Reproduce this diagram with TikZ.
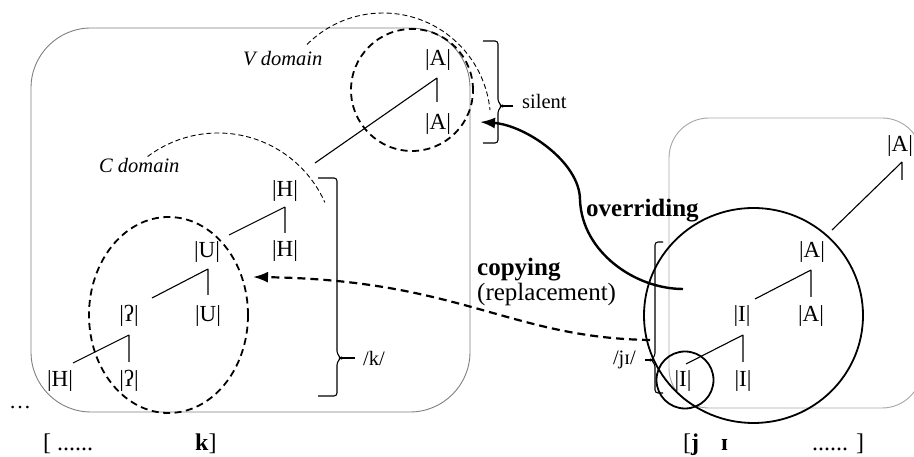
\documentclass[tikz,border=0pt]{standalone}
\usepackage{fontspec}
\setmainfont{Liberation Serif}
\usetikzlibrary{arrows.meta}
\begin{document}
\begin{tikzpicture}[x=1pt,y=1pt,
  el/.style={inner sep=0pt, font=\fontsize{23}{27}\selectfont},
  tree/.style={line width=1.1pt},
  lbox/.style={draw=black!50, line width=0.9pt},
  rbox/.style={draw=black!35, line width=0.9pt},
  dom/.style={dash pattern=on 7pt off 4.5pt, line width=1.8pt},
  thinarc/.style={dash pattern=on 5pt off 3pt, line width=0.9pt},
  brk/.style={line width=1.1pt, rounded corners=3pt},
  ring/.style={line width=1.8pt},
  lab/.style={inner sep=0pt, font=\fontsize{20.5}{24}\selectfont},
  big/.style={inner sep=0pt, font=\fontsize{25}{29}\selectfont},
  arr/.style={line width=2.4pt, -{Latex[length=15pt,width=11pt]}},
]
\useasboundingbox (0,0) rectangle (914,457);
\begin{scope}
\clip (0,0) rectangle (914,457);
% boxes
\draw[lbox, rounded corners=60pt] (31,45) rectangle (470,429);
\draw[rbox, rounded corners=40pt] (669,49) rectangle (922,339);

% left tree nodes
\node[el] (A1) at (438,397) {|A|};
\node[el] (A2) at (438,333) {|A|};
\node[el] (H1) at (285,266) {|H|};
\node[el] (H2) at (285,206) {|H|};
\node[el] (U1) at (207,205) {|U|};
\node[el] (U2) at (208,141) {|U|};
\node[el] (Q1) at (129,141) {|ʔ|};
\node[el] (H3) at (60,76) {|H|};
\node[el] (Q2) at (129,76) {|ʔ|};
% left tree branches
\coordinate (a1b) at (437,379); \coordinate (a2t) at (437,355); \coordinate (a1d) at (315,294);
\coordinate (h1b) at (285,250); \coordinate (h2t) at (285,224); \coordinate (h1d) at (229,222);
\coordinate (u1b) at (208,188); \coordinate (u2t) at (208,162); \coordinate (u1d) at (152,159);
\coordinate (q1b) at (129,122); \coordinate (q2t) at (129,95);  \coordinate (q1d) at (73,94);
\draw[tree] (a1b) -- (a2t) (a1b) -- (a1d);
\draw[tree] (h1b) -- (h2t) (h1b) -- (h1d);
\draw[tree] (u1b) -- (u2t) (u1b) -- (u1d);
\draw[tree] (q1b) -- (q2t) (q1b) -- (q1d);

% right tree nodes
\node[el] (RA1) at (900,311) {|A|};
\node[el] (RA2) at (812,205) {|A|};
\node[el] (RI1) at (742,141) {|I|};
\node[el] (RA3) at (811,141) {|A|};
\node[el] (RI2) at (683,76) {|I|};
\node[el] (RI3) at (743,76) {|I|};
\coordinate (ra1b) at (902,295); \coordinate (ra1t) at (902,277); \coordinate (ra1d) at (832,227);
\coordinate (ra2b) at (811,187); \coordinate (ra3t) at (811,160); \coordinate (ra2d) at (755,158);
\coordinate (ri1b) at (743,122); \coordinate (ri3t) at (743,95);  \coordinate (ri1d) at (686,93);
\draw[tree] (ra1b) -- (ra1t) (ra1b) -- (ra1d);
\draw[tree] (ra2b) -- (ra3t) (ra2b) -- (ra2d);
\draw[tree] (ri1b) -- (ri3t) (ri1b) -- (ri1d);

% domains
\draw[dom] (412,367) circle[radius=61];
\draw[dom] (168.5,142) circle[x radius=79.5, y radius=98];
\draw[thinarc] (383,336.5) ++(135:107.5) arc[start angle=135, end angle=5.6, radius=107.5];
\draw[thinarc] (218,207) ++(127:117) arc[start angle=127, end angle=24, radius=117];
\node[lab, anchor=base west, font=\fontsize{20.5}{24}\selectfont\itshape] (vd) at (243,391) {V domain};
\node[lab, anchor=base west, font=\fontsize{20.5}{24}\selectfont\itshape] (cd) at (99,284) {C domain};

% rings on right
\draw[ring] (753.5,141.5) circle[x radius=109.5, y radius=107.5];
\draw[ring] (685,77) circle[radius=28.5];

% brackets
\draw[brk] (483,416) -- (498,416) -- (498,355) -- (502,351) -- (498,347) -- (498,314) -- (483,314);
\coordinate (st) at (501,351); \coordinate (se) at (513,351);
\draw[line width=1.1pt] (st) -- (se);
\node[lab, anchor=base west] (silent) at (522,348) {silent};

\draw[brk] (318,279) -- (337,279) -- (337,103) -- (341,99) -- (337,95) -- (337,61) -- (318,61);
\coordinate (kt) at (340,99); \coordinate (ke) at (355,99);
\draw[line width=1.1pt] (kt) -- (ke);
\node[lab, anchor=base west] (k) at (363,91) {/k/};

\draw[brk] (663,215) -- (655,215) -- (655,101) -- (651,97) -- (655,93) -- (655,64) -- (663,64);
\coordinate (jt) at (652,97); \coordinate (je) at (645,97);
\draw[line width=1.1pt] (jt) -- (je);
\node[lab, anchor=base east] (ji) at (636,92) {/jɪ/};

% arrows
\coordinate (ov0) at (683,168);
\coordinate (ov1) at (580,257);
\coordinate (ovE) at (480,335);
\draw[arr] (ov0) .. controls (635,168) and (582,205) .. (ov1) .. controls (580,295) and (525,332) .. (ovE);
\coordinate (cp0) at (650,117);
\coordinate (cpE) at (253,180);
\draw[arr, dash pattern=on 8pt off 5pt, line width=2.2pt] (cp0) .. controls (510,119) and (460,177) .. (cpE);
\node[big, anchor=base west, font=\fontsize{25}{29}\selectfont\bfseries] (ovr) at (586,240) {overriding};
\node[big, anchor=base west, font=\fontsize{25}{29}\selectfont\bfseries] (cpy) at (477,181) {copying};
\node[big, anchor=base west] (rep) at (477,156) {(replacement)};

% bottom line
\node[big, anchor=base west, font=\fontsize{22}{26}\selectfont] (ell) at (9,48) {…};
\node[big, anchor=base west, font=\fontsize{24}{28}\selectfont] (b1) at (43,6) {[ ......};
\node[big, anchor=base west, font=\fontsize{24}{28}\selectfont] (b2) at (195,6) {\textbf{k}]};
\node[big, anchor=base west, font=\fontsize{24}{28}\selectfont] (b3) at (683,6) {[\textbf{j}};
\node[big, anchor=base west, font=\fontsize{24}{28}\selectfont\bfseries] (b4) at (721,6) {ɪ};
\node[big, anchor=base west, font=\fontsize{24}{28}\selectfont] (b5) at (812,6) {...... ]};
\end{scope}
\end{tikzpicture}
\end{document}
